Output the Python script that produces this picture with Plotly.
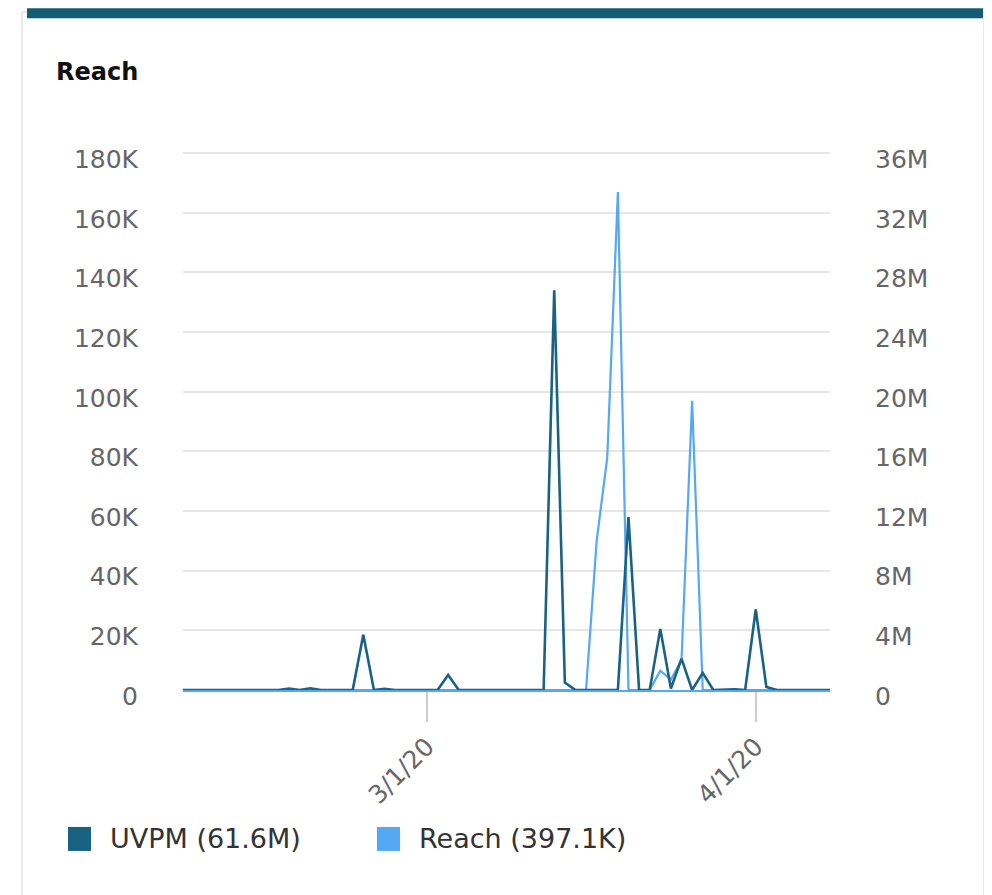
import pandas as pd
import plotly.graph_objects as go

# ---------------- data ----------------
dates = pd.date_range("2020-02-07", "2020-04-08", freq="D")

# UVPM in millions (right axis)
uvpm_feb = [0, 0, 0, 0, 0, 0, 0, 0, 0, 0,
            0.1, 0, 0.12, 0, 0, 0, 0,
            3.7, 0, 0.08, 0, 0, 0]
uvpm_mar = [0, 0, 1.0, 0, 0, 0, 0, 0, 0, 0, 0, 0,
            26.8, 0.5, 0, 0, 0, 0, 0,
            11.6, 0, 0, 4.1, 0.1, 2.1, 0, 1.15, 0, 0.05, 0.05, 0]
uvpm_apr = [5.4, 0.2, 0, 0, 0, 0, 0, 0]
uvpm = uvpm_feb + uvpm_mar + uvpm_apr

# Reach in thousands (left axis)
reach_feb = [0, 0, 0, 0, 0, 0, 0, 0, 0, 0, 0, 0, 0, 0, 0, 0, 0, 0, 0, 0, 0, 0, 0]
reach_mar = [0, 0, 0, 0, 0, 0, 0, 0, 0, 0, 0, 0, 0, 0, 0, 0,
             50, 78, 167, 0, 0, 0, 6.5, 3.5, 10, 97, 0, 0, 0, 0, 0]
reach_apr = [0, 0, 0, 0, 0, 0, 0, 0]
reach = reach_feb + reach_mar + reach_apr

left_tickvals = [0, 20, 40, 60, 80, 100, 120, 140, 160, 180]
left_ticktext = ["0", "20K", "40K", "60K", "80K", "100K", "120K", "140K", "160K", "180K"]
right_tickvals = [0, 4, 8, 12, 16, 20, 24, 28, 32, 36]
right_ticktext = ["0", "4M", "8M", "12M", "16M", "20M", "24M", "28M", "32M", "36M"]
x_tickvals = ["2020-03-01", "2020-04-01"]
x_ticktext = ["3/1/20", "4/1/20"]

title_text = "Reach"
legend_names = ["UVPM (61.6M)", "Reach (397.1K)"]

# ---------------- style ----------------
DARK = "#1a6284"
LIGHT = "#55a8f2"
FONT = "DejaVu Sans"
W, H = 992, 895
OFF = 8                      # page body margin in the browser
L, R, T, B = 183, 830, 153, 690   # plot area in screen pixels (0 .. 180K)
LMAX, RMAX = 180.4, 36.08    # a little headroom so the top gridline shows
T_EFF = B - (B - T) * LMAX / 180.0


def px(x):
    return (x - L) / (R - L)


def py(y):
    return (B - y) / (B - T_EFF)


fig = go.Figure()
fig.add_trace(go.Scatter(
    x=dates, y=uvpm, name=legend_names[0], yaxis="y2",
    mode="lines", line=dict(color=DARK, width=2.6, shape="linear"),
    showlegend=False, hoverinfo="x+y"))
fig.add_trace(go.Scatter(
    x=dates, y=reach, name=legend_names[1], yaxis="y",
    mode="lines", line=dict(color=LIGHT, width=2.2, shape="linear"),
    showlegend=False, hoverinfo="x+y"))

shapes = [
    # card border
    dict(type="rect", xref="paper", yref="paper",
         x0=px(22), x1=px(984), y0=py(905), y1=py(12),
         line=dict(color="#e4e4e4", width=1.5), fillcolor="rgba(0,0,0,0)", layer="below"),
    # top accent bar
    dict(type="rect", xref="paper", yref="paper",
         x0=px(27), x1=px(983), y0=py(18), y1=py(8),
         line=dict(width=0), fillcolor="#125d74", layer="below"),
    # legend squares
    dict(type="rect", xref="paper", yref="paper",
         x0=px(68), x1=px(91), y0=py(851), y1=py(827),
         line=dict(width=0), fillcolor=DARK),
    dict(type="rect", xref="paper", yref="paper",
         x0=px(377), x1=px(400), y0=py(851), y1=py(827),
         line=dict(width=0), fillcolor=LIGHT),
]

annotations = [
    dict(text="<b>" + title_text + "</b>", xref="paper", yref="paper",
         x=px(54), y=py(72), xanchor="left", yanchor="middle", showarrow=False,
         font=dict(family=FONT, size=24, color="#111111")),
    dict(text=legend_names[0], xref="paper", yref="paper",
         x=px(108), y=py(839), xanchor="left", yanchor="middle", showarrow=False,
         font=dict(family=FONT, size=27, color="#333333")),
    dict(text=legend_names[1], xref="paper", yref="paper",
         x=px(417), y=py(839), xanchor="left", yanchor="middle", showarrow=False,
         font=dict(family=FONT, size=27, color="#333333")),
]

fig.update_layout(
    width=W - OFF, height=H - OFF,
    margin=dict(l=L - OFF, r=W - R, t=T_EFF - OFF, b=H - B, pad=0),
    paper_bgcolor="white", plot_bgcolor="white",
    font=dict(family=FONT, color="#666666"),
    showlegend=False,
    shapes=shapes,
    annotations=annotations,
    xaxis=dict(
        type="date", range=["2020-02-07", "2020-04-08"],
        tickvals=x_tickvals, ticktext=x_ticktext, tickangle=-45,
        ticks="outside", ticklen=30, tickwidth=1.5, tickcolor="#cccccc",
        tickfont=dict(family=FONT, size=25, color="#666666"),
        showgrid=False, zeroline=False,
        showline=True, linecolor=LIGHT, linewidth=2,
    ),
    yaxis=dict(
        range=[0, LMAX], tickvals=left_tickvals, ticktext=left_ticktext,
        tickfont=dict(family=FONT, size=25, color="#666666"),
        showgrid=True, gridcolor="#e6e6e6", gridwidth=2,
        zeroline=False, showline=False, ticks="",
        ticklabelstandoff=44, ticklabelshift=6,
    ),
    yaxis2=dict(
        range=[0, RMAX], tickvals=right_tickvals, ticktext=right_ticktext,
        overlaying="y", side="right",
        tickfont=dict(family=FONT, size=25, color="#666666"),
        showgrid=False, zeroline=False, showline=False, ticks="",
        ticklabelstandoff=44, ticklabelshift=6,
    ),
)

fig.write_html("out.html")
